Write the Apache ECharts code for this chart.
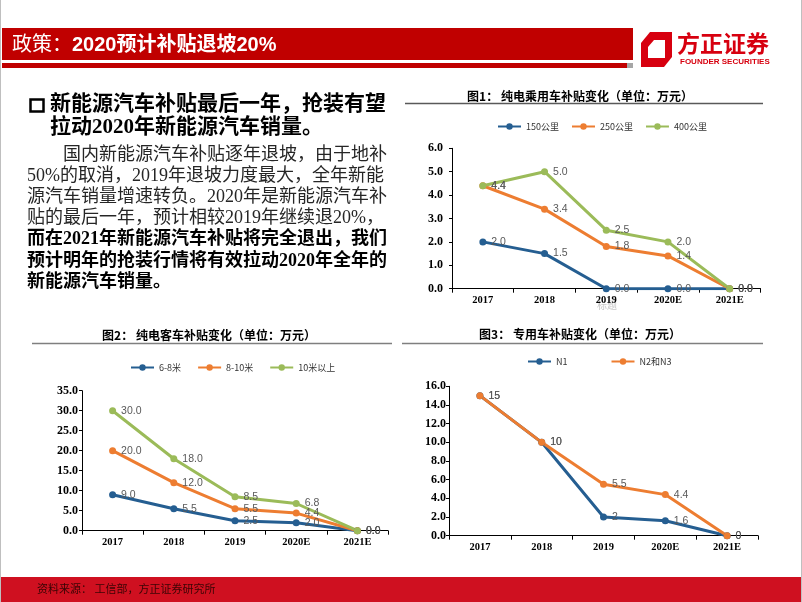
<!DOCTYPE html>
<html>
<head>
<meta charset="utf-8">
<script src="https://cdn.jsdelivr.net/npm/echarts@6/dist/echarts.min.js"></script>
<style>
html,body{margin:0;padding:0;background:#fff;}
#c{width:802px;height:602px;}
</style>
</head>
<body>
<div id="c"></div>
<script>
// ---- data ----
const years = ['2017', '2018', '2019', '2020E', '2021E'];

const c1Names = ['150公里', '250公里', '400公里'];
const c1_150 = [2.0, 1.5, 0.0, 0.0, 0.0];
const c1_250 = [4.4, 3.4, 1.8, 1.4, 0.0];
const c1_400 = [4.4, 5.0, 2.5, 2.0, 0.0];

const c2Names = ['6-8米', '8-10米', '10米以上'];
const c2_68 = [9.0, 5.5, 2.5, 2.0, 0.0];
const c2_810 = [20.0, 12.0, 5.5, 4.4, 0.0];
const c2_10 = [30.0, 18.0, 8.5, 6.8, 0.0];

const c3Names = ['N1', 'N2和N3'];
const c3_n1 = [15, 10, 2, 1.6, 0];
const c3_n23 = [15, 10, 5.5, 4.4, 0];

const bodyLines = [
  '国内新能源汽车补贴逐年退坡，由于地补',
  '50%的取消，2019年退坡力度最大，全年新能',
  '源汽车销量增速转负。2020年是新能源汽车补',
  '贴的最后一年，预计相较2019年继续退20%，',
  '而在2021年新能源汽车补贴将完全退出，我们',
  '预计明年的抢装行情将有效拉动2020年全年的',
  '新能源汽车销量。'
];

// ---- style ----
const BLUE = '#255E91', ORANGE = '#ED7D31', GREEN = '#9BBB59';
const SERIF = '"Liberation Serif", "Noto Sans CJK SC", serif';
const SANS = '"Liberation Sans", "Noto Sans CJK SC", sans-serif';
const CJK = '"Noto Sans CJK SC", sans-serif';

const fmt1 = p => p.value.toFixed(1);
const fmtRaw = p => String(p.value);

function line(name, data, color, idx, fmt) {
  return {
    type: 'line', name: name, data: data,
    xAxisIndex: idx, yAxisIndex: idx,
    symbol: 'circle', symbolSize: 7,
    color: color,
    lineStyle: { width: 3, color: color },
    itemStyle: { color: color },
    label: { show: true, position: 'right', distance: 5, color: '#595959',
      fontSize: 10.5, fontFamily: SANS, formatter: fmt },
    emphasis: { disabled: true },
    animation: false
  };
}

function xAx(idx) {
  return {
    type: 'category', gridIndex: idx, data: years, boundaryGap: true,
    axisLine: { lineStyle: { color: '#000', width: 1 } },
    axisTick: { show: true, length: 4, lineStyle: { color: '#000' } },
    axisLabel: { color: '#000', fontWeight: 'bold', fontFamily: SERIF, fontSize: 10.5, margin: 6 },
    splitLine: { show: false }
  };
}
function yAx(idx, max, interval, margin) {
  return {
    type: 'value', gridIndex: idx, min: 0, max: max, interval: interval,
    axisLine: { show: true, lineStyle: { color: '#000', width: 1 } },
    axisTick: { show: true, length: 3, lineStyle: { color: '#000' } },
    axisLabel: { color: '#000', fontWeight: 'bold', fontFamily: SERIF, fontSize: 12, margin: margin,
      formatter: v => v.toFixed(1) },
    splitLine: { show: false }
  };
}
function legend(names, left, top, gap) {
  return {
    data: names, left: left, top: top, padding: 0, itemGap: gap,
    itemWidth: 23, itemHeight: 8,
    textStyle: { fontSize: 9, color: '#333', fontFamily: CJK },
    selectedMode: false
  };
}

function txt(text, x, y, font, fill, align) {
  return { type: 'text', silent: true, style: { text: text, x: x, y: y, font: font, fill: fill,
    textAlign: align || 'left', textVerticalAlign: 'middle', align: align || 'left', verticalAlign: 'middle' } };
}
function rect(x, y, w, h, fill) {
  return { type: 'rect', silent: true, shape: { x: x, y: y, width: w, height: h }, style: { fill: fill } };
}
function hline(x1, x2, y, color, w) {
  return { type: 'line', silent: true, shape: { x1: x1, y1: y, x2: x2, y2: y }, style: { stroke: color, lineWidth: w } };
}

const graphic = [];
// header
graphic.push(rect(2, 28, 631, 32, '#C00000'));
graphic.push(rect(2, 63, 625, 5, '#C00000'));
graphic.push(rect(627, 63, 6, 5, '#A6A6A6'));
graphic.push(txt('政策：', 12, 45, '20px ' + SANS, '#fff'));
graphic.push(txt('2020预计补贴退坡20%', 72, 45, 'bold 20px ' + SANS, '#fff'));
// logo
graphic.push({ type: 'polygon', silent: true, shape: { points: [[650, 32], [672, 32], [672, 57], [664, 67], [641, 67], [641, 43]] }, style: { fill: '#D7000F' } });
graphic.push({ type: 'polygon', silent: true, shape: { points: [[654, 40], [665, 40], [665, 58], [648, 58], [648, 47]] }, style: { fill: '#fff' } });
graphic.push(txt('方正证券', 677, 43, 'bold 23px ' + CJK, '#D7000F'));
graphic.push(txt('FOUNDER SECURITIES', 680, 62, 'bold 8px ' + SANS, '#D7000F'));

// left text block
graphic.push({ type: 'rect', silent: true, shape: { x: 30.5, y: 99.5, width: 13, height: 12 }, style: { fill: 'none', stroke: '#000', lineWidth: 2.5 } });
graphic.push(txt('新能源汽车补贴最后一年，抢装有望', 50, 105, 'bold 21px ' + SERIF, '#000'));
graphic.push(txt('拉动2020年新能源汽车销量。', 50, 128, 'bold 21px ' + SERIF, '#000'));
bodyLines.forEach((t, i) => {
  const bold = i >= 4;
  graphic.push(txt(t, i === 0 ? 63 : 27, 155 + i * 21.2, (bold ? 'bold ' : '') + '18px ' + SERIF, bold ? '#000' : '#262626'));
});

// chart titles and rules
graphic.push(txt('图1： 纯电乘用车补贴变化（单位：万元）', 580, 96, 'bold 12px ' + CJK, '#000', 'center'));
graphic.push(hline(405, 763, 103.5, '#595959', 1.5));
graphic.push(txt('图2： 纯电客车补贴变化（单位：万元）', 209, 335, 'bold 12px ' + CJK, '#000', 'center'));
graphic.push(hline(32, 392, 343.5, '#7F7F7F', 1.5));
graphic.push(txt('图3： 专用车补贴变化（单位：万元）', 580, 334, 'bold 12px ' + CJK, '#000', 'center'));
graphic.push(hline(402, 763, 343.5, '#7F7F7F', 1.5));
graphic.push(txt('标题', 607, 305, '10px ' + CJK, '#C8C8C8', 'center'));

// footer
graphic.push(rect(0, 577, 802, 25, '#CF1020'));
graphic.push(txt('资料来源： 工信部，方正证券研究所', 37, 589, '11px ' + CJK, '#3A0505'));
// slide border
graphic.push({ type: 'line', silent: true, shape: { x1: 0.5, y1: 0, x2: 0.5, y2: 602 }, style: { stroke: '#BFBFBF', lineWidth: 1 } });
graphic.push({ type: 'line', silent: true, shape: { x1: 801.5, y1: 0, x2: 801.5, y2: 602 }, style: { stroke: '#BFBFBF', lineWidth: 1 } });

const option = {
  backgroundColor: '#fff',
  animation: false,
  grid: [
    { left: 452, top: 148.3, width: 308.5, height: 140.4 },
    { left: 82, top: 390.7, width: 306, height: 140 },
    { left: 449, top: 386.3, width: 309, height: 149.4 }
  ],
  xAxis: [xAx(0), xAx(1), xAx(2)],
  yAxis: [yAx(0, 6, 1, 9), yAx(1, 35, 5, 4), yAx(2, 16, 2, 3)],
  legend: [
    legend(c1Names, 497, 122, 12),
    legend(c2Names, 130, 363, 16),
    legend(c3Names, 527, 357, 43)
  ],
  series: [
    line(c1Names[0], c1_150, BLUE, 0, fmt1),
    line(c1Names[1], c1_250, ORANGE, 0, fmt1),
    line(c1Names[2], c1_400, GREEN, 0, fmt1),
    line(c2Names[0], c2_68, BLUE, 1, fmt1),
    line(c2Names[1], c2_810, ORANGE, 1, fmt1),
    line(c2Names[2], c2_10, GREEN, 1, fmt1),
    line(c3Names[0], c3_n1, BLUE, 2, fmtRaw),
    line(c3Names[1], c3_n23, ORANGE, 2, fmtRaw)
  ],
  graphic: graphic
};

const chart = echarts.init(document.getElementById('c'), null, { renderer: 'canvas' });
chart.setOption(option);
</script>
</body>
</html>
